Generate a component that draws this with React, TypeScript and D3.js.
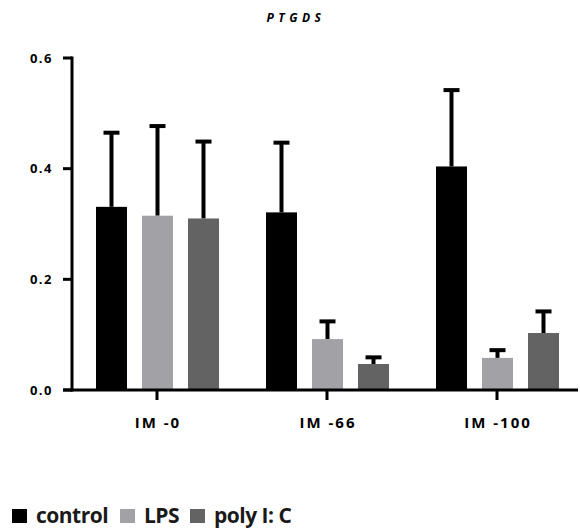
import { useEffect, useRef } from 'react';
import * as d3 from 'd3';

const groups = ['IM -0', 'IM -66', 'IM -100'];
const seriesNames = ['control', 'LPS', 'poly I: C'];
const controlMeans = [0.331, 0.321, 0.404];
const controlErr = [0.134, 0.126, 0.138];
const lpsMeans = [0.315, 0.092, 0.058];
const lpsErr = [0.162, 0.032, 0.014];
const polyMeans = [0.31, 0.047, 0.103];
const polyErr = [0.139, 0.012, 0.039];
const yTicks = [0, 0.2, 0.4, 0.6];
const colors = ['#000000', '#a2a2a6', '#636363'];

export default function App() {
  const svgRef = useRef(null);

  useEffect(() => {
    const svg = d3.select(svgRef.current);
    svg.selectAll('*').remove();

    const width = 580;
    const height = 530;
    const yAxisX = 72;
    const font = "'Open Sans', Arial, sans-serif";

    const y = d3.scaleLinear().domain([0, 0.6]).range([390, 58]);
    const x0 = d3.scaleBand().domain(groups).range([yAxisX, 582]).padding(0);
    const x1 = d3.scaleBand().domain(seriesNames).range([-68.5, 69.5])
      .paddingInner(0.326).paddingOuter(0.163);

    const means = [controlMeans, lpsMeans, polyMeans];
    const errs = [controlErr, lpsErr, polyErr];

    svg.attr('width', width).attr('height', height);

    // title
    svg.append('text')
      .attr('x', 296)
      .attr('y', 22)
      .attr('text-anchor', 'middle')
      .style('font-family', font)
      .style('font-size', '12px')
      .style('font-weight', 'bold')
      .style('font-style', 'italic')
      .style('letter-spacing', '4.5px')
      .text('PTGDS');

    const g = svg.append('g');

    // bars + error bars
    seriesNames.forEach((s, si) => {
      groups.forEach((grp, gi) => {
        const cx = x0(grp) + x0.bandwidth() / 2;
        const bx = cx + x1(s);
        const bw = x1.bandwidth();
        const m = means[si][gi];
        const e = errs[si][gi];
        const mid = bx + bw / 2;

        g.append('line')
          .attr('x1', mid).attr('x2', mid)
          .attr('y1', y(m)).attr('y2', y(m + e))
          .attr('stroke', '#000')
          .attr('stroke-width', 4);
        g.append('line')
          .attr('x1', mid - 8).attr('x2', mid + 8)
          .attr('y1', y(m + e)).attr('y2', y(m + e))
          .attr('stroke', '#000')
          .attr('stroke-width', 4);

        g.append('rect')
          .attr('x', bx)
          .attr('y', y(m))
          .attr('width', bw)
          .attr('height', y(0) - y(m))
          .attr('fill', colors[si]);
      });
    });

    // y axis
    g.append('line')
      .attr('x1', yAxisX).attr('x2', yAxisX)
      .attr('y1', y(0.6) - 1.5).attr('y2', y(0) + 1.5)
      .attr('stroke', '#000').attr('stroke-width', 3);
    yTicks.forEach(t => {
      g.append('line')
        .attr('x1', 63).attr('x2', yAxisX)
        .attr('y1', y(t)).attr('y2', y(t))
        .attr('stroke', '#000').attr('stroke-width', 3);
      g.append('text')
        .attr('x', 53)
        .attr('y', y(t))
        .attr('dy', '0.35em')
        .attr('text-anchor', 'end')
        .style('font-family', font)
        .style('font-size', '13px')
        .style('font-weight', 'bold')
        .style('letter-spacing', '1.5px')
        .text(t.toFixed(1));
    });

    // x axis
    g.append('line')
      .attr('x1', 63).attr('x2', 578)
      .attr('y1', y(0)).attr('y2', y(0))
      .attr('stroke', '#000').attr('stroke-width', 3);
    groups.forEach(grp => {
      const cx = x0(grp) + x0.bandwidth() / 2;
      g.append('line')
        .attr('x1', cx).attr('x2', cx)
        .attr('y1', y(0)).attr('y2', y(0) + 10)
        .attr('stroke', '#000').attr('stroke-width', 3);
      g.append('text')
        .attr('x', cx + 1)
        .attr('y', 428)
        .attr('text-anchor', 'middle')
        .style('font-family', font)
        .style('font-size', '15px')
        .style('font-weight', 'bold')
        .style('letter-spacing', '2px')
        .text(grp);
    });

    // legend
    const legendX = [12, 120, 190];
    seriesNames.forEach((s, i) => {
      svg.append('rect')
        .attr('x', legendX[i])
        .attr('y', 509)
        .attr('width', 15)
        .attr('height', 14)
        .attr('fill', colors[i]);
      svg.append('text')
        .attr('x', legendX[i] + 24)
        .attr('y', 523)
        .style('font-family', "'Open Sans', sans-serif")
        .style('font-size', '21px')
        .style('font-weight', 'bold')
        .style('letter-spacing', '-0.5px')
        .style('fill', '#1a1a1a')
        .text(s);
    });
  }, []);

  return <svg ref={svgRef} style={{ position: 'absolute', left: 0, top: 0 }}></svg>;
}
